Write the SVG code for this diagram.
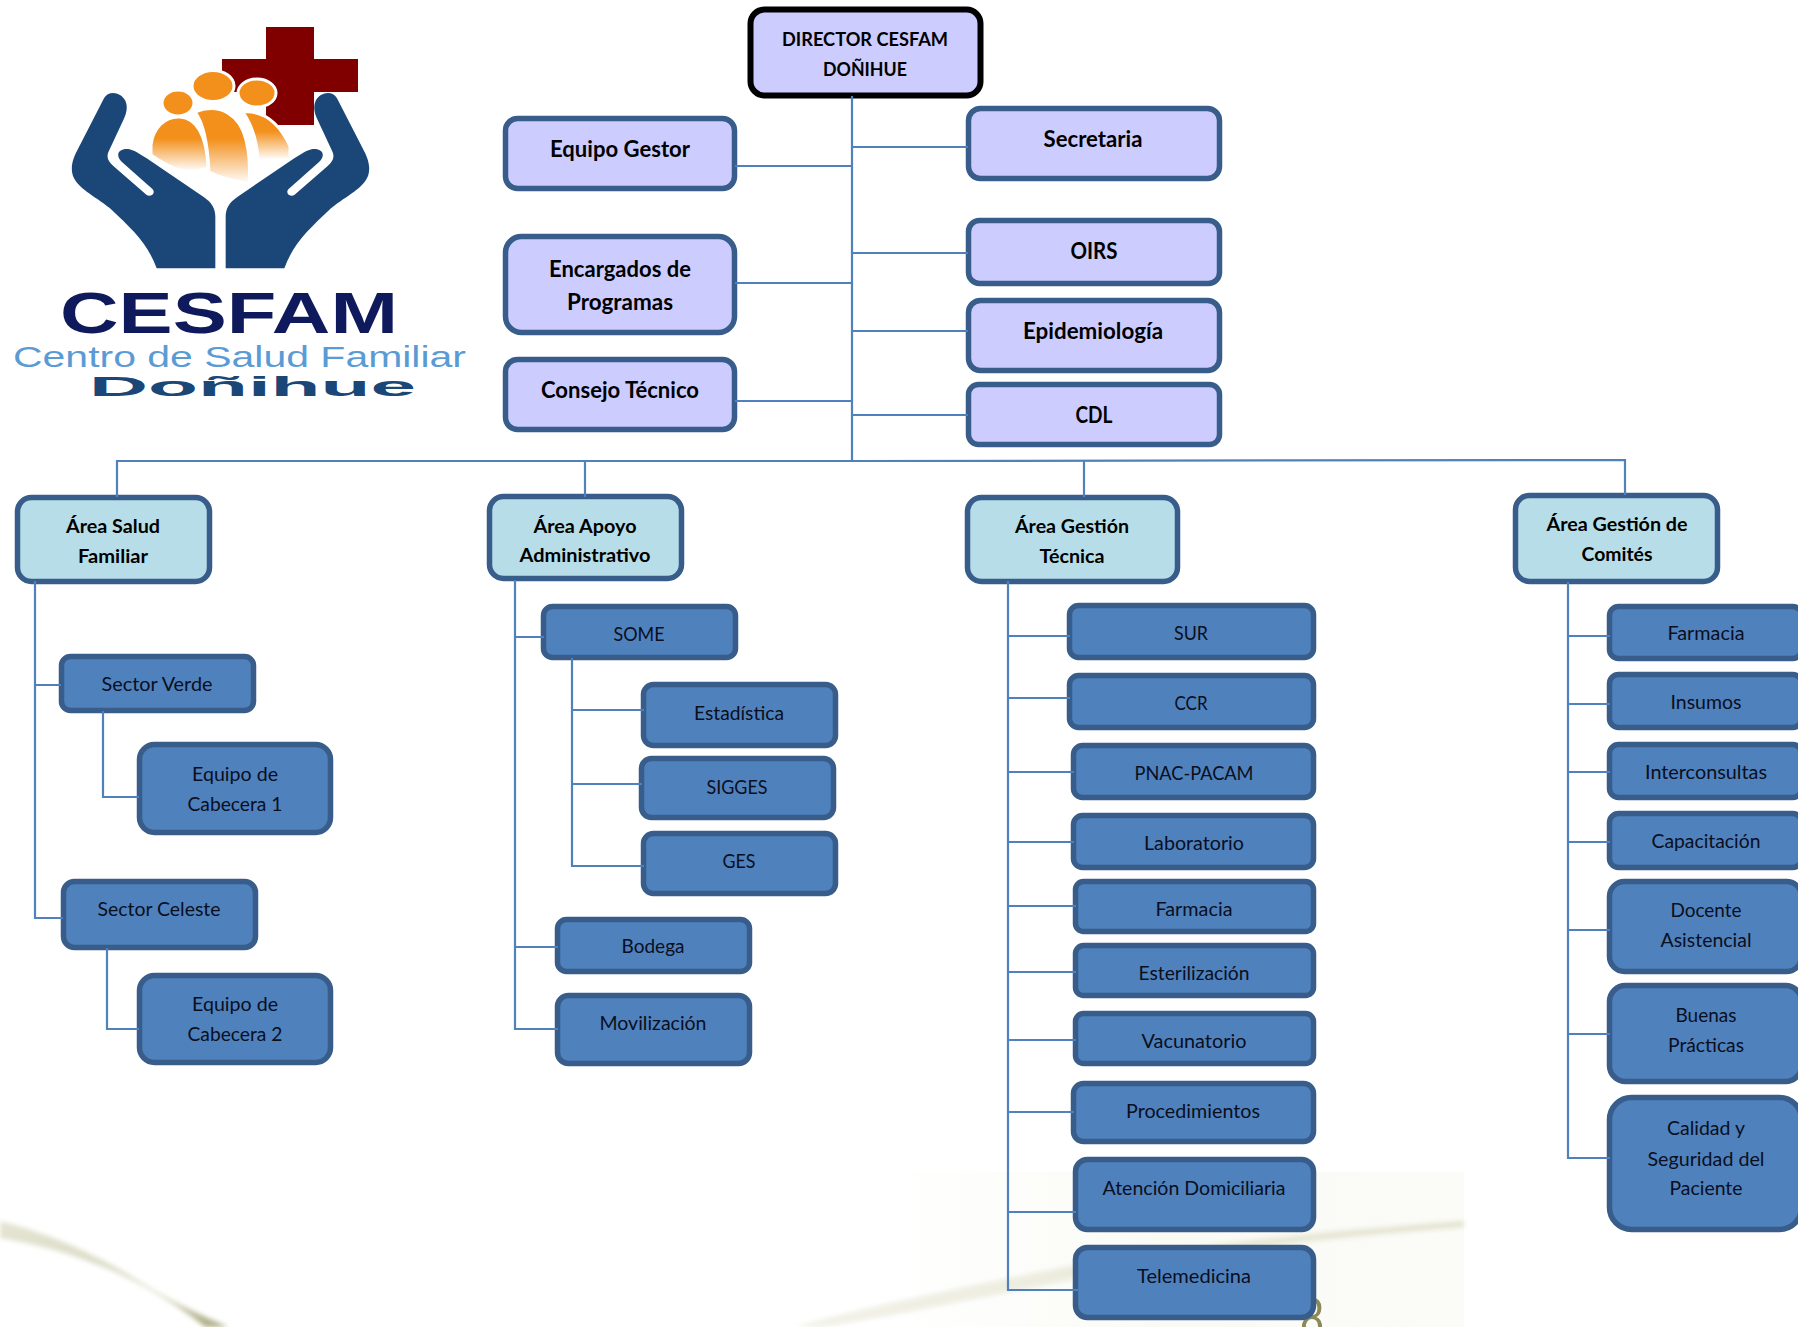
<svg xmlns="http://www.w3.org/2000/svg" width="1798" height="1327" viewBox="0 0 1798 1327">
<style>
text{font-family:"Lato","Carlito","Liberation Sans",sans-serif;text-anchor:middle;fill:#0a0f1e;font-size:19.5px}
.b{font-weight:700;fill:#000}
.t{font-weight:700;fill:#000;font-size:22.5px}
rect.n{fill:#4F81BD;stroke:#385D8A;stroke-width:5.5}
rect.a{fill:#B7DEE8;stroke:#385D8A;stroke-width:5.5}
rect.p{fill:#CCCCFF;stroke:#385D8A;stroke-width:5.5}
rect.d{fill:#CCCCFF;stroke:#000;stroke-width:6}
#connectors path{fill:none;stroke:#4F81BD;stroke-width:2.2}
</style>
<defs>
<linearGradient id="fade" x1="0" y1="0" x2="0" y2="1"><stop offset="0.4" stop-color="#F3901C"/><stop offset="1" stop-color="#F3901C" stop-opacity="0"/></linearGradient>
<linearGradient id="wash" x1="0" y1="0" x2="1" y2="0"><stop offset="0" stop-color="#FAFAF5" stop-opacity="0"/><stop offset="0.5" stop-color="#FAFAF5"/><stop offset="1" stop-color="#FBFBF8"/></linearGradient>
<linearGradient id="swL" x1="0" y1="0" x2="1" y2="1"><stop offset="0" stop-color="#E4E4D2"/><stop offset="0.6" stop-color="#D8D8C2"/><stop offset="1" stop-color="#A9A980"/></linearGradient>
<linearGradient id="swR" x1="0" y1="0" x2="1" y2="0"><stop offset="0" stop-color="#F2F2E8"/><stop offset="0.45" stop-color="#EBEBDD"/><stop offset="1" stop-color="#E2E2CE"/></linearGradient>
<filter id="soft" x="-10%" y="-30%" width="120%" height="160%"><feGaussianBlur stdDeviation="2.5"/></filter>
<path id="hand" d="M470 805C445 735 400 690 330 625C280 585 232 565 218 525C210 495 222 470 235 445L312 295C325 270 362 275 376 302C384 320 380 340 370 360L328 450C318 470 322 482 340 498L440 585C452 592 468 580 458 568L365 485C345 465 355 445 385 447C400 449 420 462 440 475L610 590C635 607 646 625 646 650V805Z" fill="#1A4778"/>
</defs>
<g id="watermark">
<rect x="880" y="1172" width="584" height="155" fill="url(#wash)"/>
<path d="M0 1221C60 1236 110 1262 150 1288C180 1306 208 1318 228 1327H205C175 1302 130 1276 90 1262C60 1250 30 1243 0 1238Z" fill="url(#swL)" filter="url(#soft)"/>
<path d="M794 1327C860 1308 960 1288 1060 1268C1180 1245 1320 1232 1464 1221V1227C1320 1238 1180 1254 1060 1282C960 1302 870 1320 825 1327Z" fill="url(#swR)" filter="url(#soft)"/>
<text x="1312" y="1339" textLength="24" lengthAdjust="spacingAndGlyphs" style="font-family:'Liberation Sans',sans-serif;font-size:60px;fill:#8A8A58">8</text>
</g>
<g id="logo">
<rect x="266" y="27" width="48" height="98" fill="#800000"/>
<rect x="222" y="59" width="136" height="33" fill="#800000"/>
<g stroke="#fff" stroke-width="3">
<path d="M243 112C265 110 280 125 290 146V160H258C257 140 252 125 243 112Z" fill="url(#fade)"/>
<path d="M195 112C220 102 240 115 246 140C250 155 250 170 249 184C230 180 215 175 209 172C208 150 205 125 195 112Z" fill="url(#fade)"/>
<path d="M151 145C153 128 165 116 180 117C196 118 207 135 208 168C190 175 175 172 151 155Z" fill="url(#fade)"/>
<ellipse cx="178" cy="103" rx="16" ry="13" fill="#F3901C"/>
<ellipse cx="213" cy="86" rx="21" ry="15.5" fill="#F3901C"/>
<ellipse cx="257" cy="93" rx="19" ry="14" fill="#F3901C"/>
</g>
<g transform="scale(0.33333)">
<use href="#hand"/>
<use href="#hand" transform="translate(1323 0) scale(-1 1)"/>
</g>
<text x="229" y="333" textLength="338" lengthAdjust="spacingAndGlyphs" style="font-family:'Liberation Sans',sans-serif;font-weight:700;font-size:58px;fill:#0F1A5C">CESFAM</text>
<text x="239.500" y="367" textLength="453" lengthAdjust="spacingAndGlyphs" style="font-family:'Liberation Sans',sans-serif;font-weight:400;font-size:30px;fill:#5B9BD5">Centro de Salud Familiar</text>
<text x="252.500" y="396" textLength="327" lengthAdjust="spacingAndGlyphs" style="font-family:'Liberation Sans',sans-serif;font-weight:700;font-size:27px;fill:#1A4778">Doñihue</text>
</g>

<g id="director"><rect class="d" x="750.500" y="9.500" width="230" height="86" rx="14"/><text class="b" x="865" y="46" textLength="166" lengthAdjust="spacingAndGlyphs">DIRECTOR CESFAM</text><text class="b" x="865" y="76" textLength="84" lengthAdjust="spacingAndGlyphs">DOÑIHUE</text></g>
<g id="equipo-gestor"><rect class="p" x="505.500" y="118.500" width="229" height="70" rx="12"/><text class="t" x="620" y="156.500" textLength="140" lengthAdjust="spacingAndGlyphs">Equipo Gestor</text></g>
<g id="encargados"><rect class="p" x="505.500" y="236.500" width="229" height="96" rx="16"/><text class="t" x="620" y="276.500" textLength="142" lengthAdjust="spacingAndGlyphs">Encargados de</text><text class="t" x="620" y="309.500" textLength="106" lengthAdjust="spacingAndGlyphs">Programas</text></g>
<g id="consejo"><rect class="p" x="505.500" y="359.500" width="229" height="70" rx="12"/><text class="t" x="620" y="397.500" textLength="158" lengthAdjust="spacingAndGlyphs">Consejo Técnico</text></g>
<g id="secretaria"><rect class="p" x="968.500" y="108.500" width="251" height="70" rx="12"/><text class="t" x="1093" y="146.500" textLength="99" lengthAdjust="spacingAndGlyphs">Secretaria</text></g>
<g id="oirs"><rect class="p" x="968.500" y="220.500" width="251" height="63" rx="11"/><text class="t" x="1094" y="258.500" textLength="47" lengthAdjust="spacingAndGlyphs">OIRS</text></g>
<g id="epidemiologia"><rect class="p" x="968.500" y="300.500" width="251" height="70" rx="12"/><text class="t" x="1093" y="338.500" textLength="140" lengthAdjust="spacingAndGlyphs">Epidemiología</text></g>
<g id="cdl"><rect class="p" x="968.500" y="384.500" width="251" height="60" rx="10"/><text class="t" x="1094" y="422.500" textLength="37" lengthAdjust="spacingAndGlyphs">CDL</text></g>

<g id="area-salud"><rect class="a" x="17.500" y="497.500" width="192" height="84" rx="14"/><text class="b" x="113" y="533" textLength="94" lengthAdjust="spacingAndGlyphs">Área Salud</text><text class="b" x="113" y="563" textLength="70" lengthAdjust="spacingAndGlyphs">Familiar</text></g>
<g id="area-apoyo"><rect class="a" x="489.500" y="496.500" width="192" height="82" rx="14"/><text class="b" x="585" y="533" textLength="103" lengthAdjust="spacingAndGlyphs">Área Apoyo</text><text class="b" x="585" y="562" textLength="131" lengthAdjust="spacingAndGlyphs">Administrativo</text></g>
<g id="area-tecnica"><rect class="a" x="967.500" y="497.500" width="210" height="84" rx="14"/><text class="b" x="1072" y="533" textLength="114" lengthAdjust="spacingAndGlyphs">Área Gestión</text><text class="b" x="1072" y="563" textLength="65" lengthAdjust="spacingAndGlyphs">Técnica</text></g>
<g id="area-comites"><rect class="a" x="1515.500" y="495.500" width="202" height="86" rx="14"/><text class="b" x="1617" y="531" textLength="141" lengthAdjust="spacingAndGlyphs">Área Gestión de</text><text class="b" x="1617" y="561" textLength="71" lengthAdjust="spacingAndGlyphs">Comités</text></g>

<g id="sector-verde"><rect class="n" x="61.500" y="656.500" width="192" height="54" rx="9"/><text x="157" y="691" textLength="111" lengthAdjust="spacingAndGlyphs">Sector Verde</text></g>
<g id="equipo-1"><rect class="n" x="139.500" y="744.500" width="191" height="88" rx="15"/><text x="235" y="781" textLength="86" lengthAdjust="spacingAndGlyphs">Equipo de</text><text x="235" y="811" textLength="95" lengthAdjust="spacingAndGlyphs">Cabecera 1</text></g>
<g id="sector-celeste"><rect class="n" x="63.500" y="881.500" width="192" height="66" rx="11"/><text x="159" y="916" textLength="123" lengthAdjust="spacingAndGlyphs">Sector Celeste</text></g>
<g id="equipo-2"><rect class="n" x="139.500" y="975.500" width="191" height="87" rx="15"/><text x="235" y="1011" textLength="86" lengthAdjust="spacingAndGlyphs">Equipo de</text><text x="235" y="1041" textLength="95" lengthAdjust="spacingAndGlyphs">Cabecera 2</text></g>

<g id="some"><rect class="n" x="543.500" y="606.500" width="192" height="51" rx="9"/><text x="639" y="641" textLength="51" lengthAdjust="spacingAndGlyphs">SOME</text></g>
<g id="estadistica"><rect class="n" x="643.500" y="684.500" width="192" height="61" rx="10"/><text x="739" y="720" textLength="90" lengthAdjust="spacingAndGlyphs">Estadística</text></g>
<g id="sigges"><rect class="n" x="641.500" y="758.500" width="192" height="59" rx="10"/><text x="737" y="794" textLength="61" lengthAdjust="spacingAndGlyphs">SIGGES</text></g>
<g id="ges"><rect class="n" x="643.500" y="833.500" width="192" height="60" rx="10"/><text x="739" y="868" textLength="33" lengthAdjust="spacingAndGlyphs">GES</text></g>
<g id="bodega"><rect class="n" x="557.500" y="919.500" width="192" height="52" rx="9"/><text x="653" y="953" textLength="63" lengthAdjust="spacingAndGlyphs">Bodega</text></g>
<g id="movilizacion"><rect class="n" x="557.500" y="995.500" width="192" height="68" rx="11"/><text x="653" y="1030" textLength="107" lengthAdjust="spacingAndGlyphs">Movilización</text></g>

<g id="sur"><rect class="n" x="1069.500" y="605.500" width="244" height="52" rx="9"/><text x="1191" y="640" textLength="34" lengthAdjust="spacingAndGlyphs">SUR</text></g>
<g id="ccr"><rect class="n" x="1069.500" y="675.500" width="244" height="52" rx="9"/><text x="1191" y="710" textLength="33" lengthAdjust="spacingAndGlyphs">CCR</text></g>
<g id="pnac"><rect class="n" x="1073.500" y="745.500" width="240" height="52" rx="9"/><text x="1194" y="780" textLength="119" lengthAdjust="spacingAndGlyphs">PNAC-PACAM</text></g>
<g id="laboratorio"><rect class="n" x="1073.500" y="815.500" width="240" height="52" rx="9"/><text x="1194" y="850" textLength="100" lengthAdjust="spacingAndGlyphs">Laboratorio</text></g>
<g id="farmacia-t"><rect class="n" x="1075.500" y="881.500" width="238" height="50" rx="8"/><text x="1194" y="916" textLength="77" lengthAdjust="spacingAndGlyphs">Farmacia</text></g>
<g id="esterilizacion"><rect class="n" x="1075.500" y="945.500" width="238" height="50" rx="8"/><text x="1194" y="980" textLength="111" lengthAdjust="spacingAndGlyphs">Esterilización</text></g>
<g id="vacunatorio"><rect class="n" x="1075.500" y="1013.500" width="238" height="50" rx="8"/><text x="1194" y="1048" textLength="105" lengthAdjust="spacingAndGlyphs">Vacunatorio</text></g>
<g id="procedimientos"><rect class="n" x="1073.500" y="1083.500" width="240" height="58" rx="10"/><text x="1193" y="1118" textLength="134" lengthAdjust="spacingAndGlyphs">Procedimientos</text></g>
<g id="atencion"><rect class="n" x="1075.500" y="1159.500" width="238" height="70" rx="12"/><text x="1194" y="1195" textLength="183" lengthAdjust="spacingAndGlyphs">Atención Domiciliaria</text></g>
<g id="telemedicina"><rect class="n" x="1075.500" y="1247.500" width="238" height="70" rx="12"/><text x="1194" y="1283" textLength="114" lengthAdjust="spacingAndGlyphs">Telemedicina</text></g>

<g id="farmacia-c"><rect class="n" x="1609.500" y="606.500" width="192" height="52" rx="9"/><text x="1706" y="640" textLength="77" lengthAdjust="spacingAndGlyphs">Farmacia</text></g>
<g id="insumos"><rect class="n" x="1609.500" y="674.500" width="192" height="53" rx="9"/><text x="1706" y="709" textLength="71" lengthAdjust="spacingAndGlyphs">Insumos</text></g>
<g id="interconsultas"><rect class="n" x="1609.500" y="744.500" width="192" height="53" rx="9"/><text x="1706" y="779" textLength="122" lengthAdjust="spacingAndGlyphs">Interconsultas</text></g>
<g id="capacitacion"><rect class="n" x="1609.500" y="813.500" width="192" height="54" rx="9"/><text x="1706" y="848" textLength="109" lengthAdjust="spacingAndGlyphs">Capacitación</text></g>
<g id="docente"><rect class="n" x="1609.500" y="881.500" width="192" height="90" rx="15"/><text x="1706" y="917" textLength="71" lengthAdjust="spacingAndGlyphs">Docente</text><text x="1706" y="947" textLength="91" lengthAdjust="spacingAndGlyphs">Asistencial</text></g>
<g id="buenas"><rect class="n" x="1609.500" y="985.500" width="192" height="96" rx="16"/><text x="1706" y="1022" textLength="61" lengthAdjust="spacingAndGlyphs">Buenas</text><text x="1706" y="1052" textLength="76" lengthAdjust="spacingAndGlyphs">Prácticas</text></g>
<g id="calidad"><rect class="n" x="1609.500" y="1097.500" width="192" height="132" rx="22"/><text x="1706" y="1135" textLength="78" lengthAdjust="spacingAndGlyphs">Calidad y</text><text x="1706" y="1166" textLength="117" lengthAdjust="spacingAndGlyphs">Seguridad del</text><text x="1706" y="1195" textLength="73" lengthAdjust="spacingAndGlyphs">Paciente</text></g>

<g id="connectors">
<path d="M852 96V461"/>
<path d="M852 147H968M852 253H968M852 331H968M852 415H968"/>
<path d="M735 166H852M735 283H852M735 401H852"/>
<path d="M117 497V461H852L1625 460V495"/>
<path d="M585 461V497M1084 460V497"/>
<path d="M35 581V918H63M35 685H61"/>
<path d="M103 711V797H139M107 948V1029H139"/>
<path d="M515 580V1029H558M515 637H544M515 947H558"/>
<path d="M572 658V866H644M572 710H644M572 784H642"/>
<path d="M1008 581V1290H1078M1008 636H1070M1008 698H1070M1008 772H1074M1008 842H1074M1008 906H1076M1008 972H1076M1008 1040H1076M1008 1112H1074M1008 1212H1076"/>
<path d="M1568 582V1158H1610M1568 636H1610M1568 704H1610M1568 772H1610M1568 842H1610M1568 930H1610M1568 1034H1610"/>
</g>
</svg>
